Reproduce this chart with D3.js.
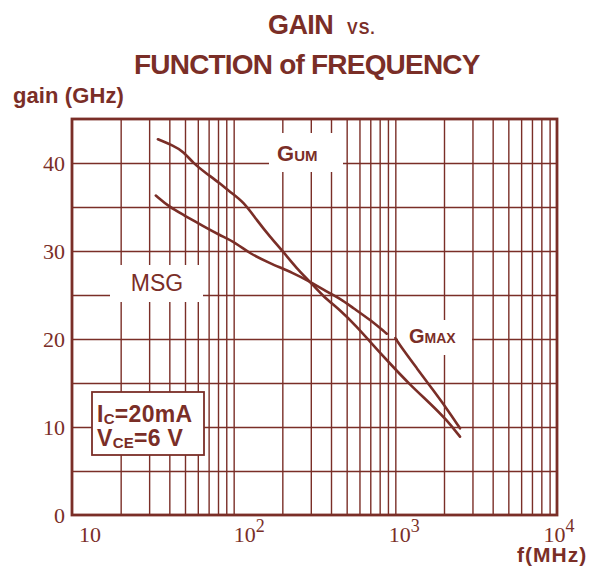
<!DOCTYPE html>
<html>
<head>
<meta charset="utf-8">
<script src="https://cdn.jsdelivr.net/npm/d3@7"></script>
<style>
  body { margin: 0; background: #fff; }
  svg { display: block; }
</style>
</head>
<body>
<svg width="603" height="568"></svg>
<script>
// gain curves (frequency in MHz, gain in dB)
const gumFreq = [34, 42, 49, 56, 68, 82, 95, 115, 139, 168, 203, 246, 297, 359, 455, 577, 697, 927, 1232, 1638, 2079, 2512];
const gumGain = [42.7, 42.0, 41.3, 40.0, 38.8, 37.7, 36.7, 35.6, 33.5, 31.6, 29.9, 28.0, 26.5, 24.8, 23.3, 21.4, 19.7, 17.2, 14.8, 12.7, 10.8, 8.9];

const msgFreq = [33, 40, 49, 65, 82, 104, 126, 168, 234, 297, 359, 455, 550, 697, 885];
const msgGain = [36.3, 35.0, 34.1, 32.8, 31.8, 30.9, 29.7, 28.6, 27.5, 26.5, 25.6, 24.6, 23.5, 22.2, 20.6];

const gmaxFreq = [1000, 1120, 1356, 1679, 2079, 2512];
const gmaxGain = [20.1, 18.75, 16.7, 14.4, 12.1, 9.85];

// axis labels
const gainTicks = [0, 10, 20, 30, 40];
const gainGrid = [5, 10, 15, 20, 25, 30, 35, 40];
const freqLabels = [10, 100, 1000, 10000];
const freqExps = ['', '2', '3', '4'];

const col = '#7a2e27';
const svg = d3.select('svg');

const x = d3.scaleLog().domain([10, 10000]).range([72, 557]);
const y = d3.scaleLinear().domain([0, 45]).range([515, 119]);
const plotH = y(0) - y(45);

// vertical grid (log paper)
const freqGrid = x.ticks().filter(d => d > 10 && d < 10000);
svg.append('g')
  .attr('transform', `translate(0,${y(0)})`)
  .call(d3.axisBottom(x).tickValues(freqGrid).tickSize(-plotH).tickFormat(''))
  .call(g => g.select('.domain').remove())
  .selectAll('line')
  .attr('stroke', col)
  .attr('stroke-width', 1.4);

// horizontal grid
svg.append('g')
  .attr('transform', `translate(${x(10)},0)`)
  .call(d3.axisLeft(y).tickValues(gainGrid).tickSize(-(x(10000) - x(10))).tickFormat(''))
  .call(g => g.select('.domain').remove())
  .selectAll('line')
  .attr('stroke', col)
  .attr('stroke-width', 1.4);

// white patches behind the curve names
svg.append('rect').attr('x', 110).attr('y', 265).attr('width', 93).attr('height', 37).attr('fill', '#fff');
svg.append('rect').attr('x', 269).attr('y', 133).attr('width', 74).attr('height', 39).attr('fill', '#fff');
svg.append('rect').attr('x', 398).attr('y', 320).attr('width', 74).attr('height', 35).attr('fill', '#fff');

// curves
const line = d3.line()
  .x(d => x(d[0]))
  .y(d => y(d[1]))
  .curve(d3.curveBasis);

[[gumFreq, gumGain], [msgFreq, msgGain], [gmaxFreq, gmaxGain]].forEach(([f, g]) => {
  svg.append('path')
    .datum(f.map((v, i) => [v, g[i]]))
    .attr('d', line)
    .attr('fill', 'none')
    .attr('stroke', col)
    .attr('stroke-width', 2.6)
    .attr('stroke-linecap', 'round');
});

// frame
svg.append('rect')
  .attr('x', x(10))
  .attr('y', y(45))
  .attr('width', x(10000) - x(10))
  .attr('height', plotH)
  .attr('fill', 'none')
  .attr('stroke', col)
  .attr('stroke-width', 2.8);

// y tick labels
svg.append('g')
  .selectAll('text')
  .data(gainTicks)
  .join('text')
  .attr('x', 65)
  .attr('y', d => y(d) + 7.5)
  .attr('text-anchor', 'end')
  .attr('font-family', 'Liberation Serif, serif')
  .attr('font-size', 22)
  .attr('fill', col)
  .text(d => d);

// x decade labels (the originals drift left of the decade lines a bit)
const labelX = v => x(v) + 7 - 6.8 * Math.log10(v / 10);
const xl = svg.append('g')
  .selectAll('text')
  .data(freqLabels)
  .join('text')
  .attr('x', d => labelX(d))
  .attr('y', 542)
  .attr('font-family', 'Liberation Serif, serif')
  .attr('font-size', 22)
  .attr('fill', col);
xl.append('tspan').text('10');
xl.append('tspan')
  .attr('font-size', 18)
  .attr('dy', -10)
  .text((d, i) => freqExps[i]);

// titles
const sans = 'Liberation Sans, Arial, sans-serif';
const t1 = svg.append('text')
  .attr('x', 268).attr('y', 34)
  .attr('font-family', sans).attr('font-weight', 'bold')
  .attr('fill', col);
t1.append('tspan').attr('font-size', 27).attr('letter-spacing', -0.6).text('GAIN');
t1.append('tspan').attr('x', 347).attr('font-size', 16).attr('letter-spacing', 1).text('VS.');

svg.append('text')
  .attr('x', 134).attr('y', 74)
  .attr('font-family', sans).attr('font-weight', 'bold')
  .attr('font-size', 28).attr('letter-spacing', -0.8)
  .attr('fill', col)
  .text('FUNCTION of FREQUENCY');

svg.append('text')
  .attr('x', 13).attr('y', 103)
  .attr('font-family', sans).attr('font-weight', 'bold')
  .attr('font-size', 22).attr('letter-spacing', 0.1)
  .attr('fill', col)
  .text('gain (GHz)');

svg.append('text')
  .attr('x', 517).attr('y', 562)
  .attr('font-family', sans).attr('font-weight', 'bold')
  .attr('font-size', 21).attr('letter-spacing', 1)
  .attr('fill', col)
  .text('f(MHz)');

// curve names
svg.append('text')
  .attr('x', 157).attr('y', 291)
  .attr('text-anchor', 'middle')
  .attr('font-family', sans).attr('font-size', 23)
  .attr('fill', col)
  .text('MSG');

const gum = svg.append('text')
  .attr('x', 277).attr('y', 161)
  .attr('font-family', sans).attr('font-weight', 'bold')
  .attr('fill', col);
gum.append('tspan').attr('font-size', 22).text('G');
gum.append('tspan').attr('font-size', 15).text('UM');

const gmax = svg.append('text')
  .attr('x', 409).attr('y', 343)
  .attr('font-family', sans).attr('font-weight', 'bold')
  .attr('fill', col);
gmax.append('tspan').attr('font-size', 20).text('G');
gmax.append('tspan').attr('font-size', 14).text('MAX');

// bias conditions box
svg.append('rect')
  .attr('x', 92).attr('y', 392)
  .attr('width', 112).attr('height', 63)
  .attr('fill', '#fff')
  .attr('stroke', col)
  .attr('stroke-width', 1.8);

const ic = svg.append('text')
  .attr('x', 97).attr('y', 422)
  .attr('font-family', sans).attr('font-weight', 'bold')
  .attr('font-size', 23).attr('letter-spacing', 0.3).attr('fill', col);
ic.append('tspan').text('I');
ic.append('tspan').attr('font-size', 15).attr('dy', 2).text('C');
ic.append('tspan').attr('dy', -2).text('=20mA');

const vce = svg.append('text')
  .attr('x', 97).attr('y', 446)
  .attr('font-family', sans).attr('font-weight', 'bold')
  .attr('font-size', 23).attr('letter-spacing', 0.3).attr('fill', col);
vce.append('tspan').text('V');
vce.append('tspan').attr('font-size', 15).attr('dy', 2).text('CE');
vce.append('tspan').attr('dy', -2).text('=6 V');
</script>
</body>
</html>
